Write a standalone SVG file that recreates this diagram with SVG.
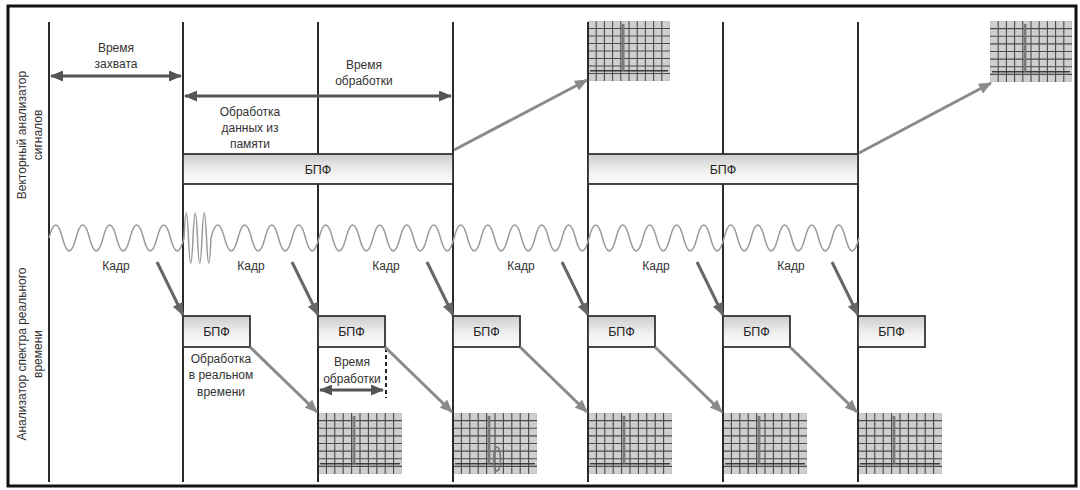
<svg xmlns="http://www.w3.org/2000/svg" xmlns:xlink="http://www.w3.org/1999/xlink" width="1080" height="490" viewBox="0 0 1080 490">
<style>
text{font-family:"Liberation Sans",Arial,sans-serif;font-size:12px;fill:#333;text-anchor:middle}
.bpf{font-size:12.5px;fill:#222}
.vline{stroke:#2a2a2a;stroke-width:2;fill:none}
.wave{stroke:#9a9a9a;stroke-width:1.5;fill:none}
.garr{stroke:#8a8a8a;stroke-width:3;fill:none;marker-end:url(#ahG)}
.darr{stroke:#666;stroke-width:3;fill:none;marker-end:url(#ahD)}
.dbl{stroke:#555;stroke-width:3;fill:none;marker-start:url(#ahS);marker-end:url(#ahS)}
.box{fill:url(#gb);stroke:#333;stroke-width:1.8}
</style>
<defs>
<linearGradient id="gb" x1="0" y1="0" x2="0" y2="1">
<stop offset="0" stop-color="#cdcdcd"/>
<stop offset="0.6" stop-color="#f2f2f2"/>
<stop offset="1" stop-color="#fbfbfb"/>
</linearGradient>
<marker id="ahG" markerUnits="userSpaceOnUse" markerWidth="13" markerHeight="11" refX="12" refY="5.5" orient="auto"><path d="M0,0 L13,5.5 L0,11 z" fill="#8a8a8a"/></marker>
<marker id="ahD" markerUnits="userSpaceOnUse" markerWidth="13" markerHeight="11" refX="12" refY="5.5" orient="auto"><path d="M0,0 L13,5.5 L0,11 z" fill="#666"/></marker>
<marker id="ahS" markerUnits="userSpaceOnUse" markerWidth="13" markerHeight="11" refX="12" refY="5.5" orient="auto-start-reverse"><path d="M0,0 L13,5.5 L0,11 z" fill="#555"/></marker>
<symbol id="spec" viewBox="0 0 84 62" preserveAspectRatio="none">
<rect x="0" y="0" width="84" height="62" fill="#cfcfcf" stroke="#bdbdbd" stroke-width="1"/>
<path d="M8.4 0V62M16.8 0V62M25.2 0V62M33.6 0V62M42 0V62M50.4 0V62M58.8 0V62M67.2 0V62M75.6 0V62M0 7.75H84M0 15.5H84M0 23.25H84M0 31H84M0 38.75H84M0 46.5H84M0 54.25H84" stroke="#4a4a4a" stroke-width="1.1" fill="none"/>
<path d="M2 51.5H82" stroke="#3a3a3a" stroke-width="1.6" fill="none"/>
<path d="M36 3V51.5" stroke="#7a7a7a" stroke-width="2.8" fill="none"/>
</symbol>
</defs>
<rect x="0" y="0" width="1080" height="490" fill="#fff"/>
<rect x="8" y="6" width="1068" height="480" fill="none" stroke="#111" stroke-width="3"/>

<g id="lanes">
<text transform="translate(26,135) rotate(-90)">Векторный анализатор</text>
<text transform="translate(42,135) rotate(-90)">сигналов</text>
<text transform="translate(26,354) rotate(-90)">Анализатор спектра реального</text>
<text transform="translate(42,354) rotate(-90)">времени</text>
</g>

<g id="spectra">
<use xlink:href="#spec" href="#spec" x="588" y="21" width="82" height="60"/>
<use xlink:href="#spec" href="#spec" x="990" y="21" width="82" height="61"/>
<use xlink:href="#spec" href="#spec" x="318" y="413" width="84" height="61"/>
<g id="spec453">
<use xlink:href="#spec" href="#spec" x="453" y="413" width="84" height="61"/>
<ellipse cx="497" cy="459" rx="3.5" ry="12" fill="none" stroke="#777" stroke-width="1.6"/>
</g>
<use xlink:href="#spec" href="#spec" x="588" y="413" width="84" height="61"/>
<use xlink:href="#spec" href="#spec" x="723" y="413" width="84" height="61"/>
<use xlink:href="#spec" href="#spec" x="858" y="413" width="84" height="61"/>
</g>

<g id="timelines">
<path class="vline" d="M49 22V482M183 22V482M318 22V482M453 22V482M588 22V482M723 22V482M858 22V482"/>
</g>

<g id="signal">
<path class="wave" d="M49 238q6.75 -26 13.5 0t13.5 0t13.5 0t13.5 0t13.5 0t13.5 0t13.5 0t13.5 0t13.5 0t13.5 0
q2.25 -50 4.5 0t4.5 0t4.5 0t4.5 0t4.5 0t4.5 0
q6.75 -26 13.5 0t13.5 0t13.5 0t13.5 0t13.5 0t13.5 0t13.5 0t13.5 0t13.5 0t13.5 0t13.5 0t13.5 0t13.5 0t13.5 0t13.5 0t13.5 0t13.5 0t13.5 0t13.5 0t13.5 0t13.5 0t13.5 0t13.5 0t13.5 0t13.5 0t13.5 0t13.5 0t13.5 0t13.5 0t13.5 0t13.5 0t13.5 0t13.5 0t13.5 0t13.5 0t13.5 0t13.5 0t13.5 0t13.5 0t13.5 0t13.5 0t13.5 0t13.5 0t13.5 0t13.5 0t13.5 0t13.5 0t13.5 0"/>
</g>

<g id="fft-top-1">
<rect class="box" x="183" y="154" width="270" height="30"/>
<text class="bpf" x="318" y="174">БПФ</text>
</g>
<g id="fft-top-2">
<rect class="box" x="588" y="154" width="270" height="30"/>
<text class="bpf" x="723" y="174">БПФ</text>
</g>

<g id="fft-rt">
<g id="fft-rt-1"><rect class="box" x="183" y="316" width="67" height="31"/><text class="bpf" x="216.5" y="336">БПФ</text></g>
<g id="fft-rt-2"><rect class="box" x="318" y="316" width="67" height="31"/><text class="bpf" x="351.5" y="336">БПФ</text></g>
<g id="fft-rt-3"><rect class="box" x="453" y="316" width="67" height="31"/><text class="bpf" x="486.5" y="336">БПФ</text></g>
<g id="fft-rt-4"><rect class="box" x="588" y="316" width="67" height="31"/><text class="bpf" x="621.5" y="336">БПФ</text></g>
<g id="fft-rt-5"><rect class="box" x="723" y="316" width="67" height="31"/><text class="bpf" x="756.5" y="336">БПФ</text></g>
<g id="fft-rt-6"><rect class="box" x="858" y="316" width="67" height="31"/><text class="bpf" x="891.5" y="336">БПФ</text></g>
</g>

<g id="labels">
<text x="116" y="52">Время</text>
<text x="116" y="68">захвата</text>
<text x="364" y="69">Время</text>
<text x="364" y="85">обработки</text>
<text x="250" y="116">Обработка</text>
<text x="250" y="132">данных из</text>
<text x="250" y="148">памяти</text>
<text x="116" y="270">Кадр</text>
<text x="251" y="270">Кадр</text>
<text x="386" y="270">Кадр</text>
<text x="521" y="270">Кадр</text>
<text x="656" y="270">Кадр</text>
<text x="791" y="270">Кадр</text>
<text x="221" y="363">Обработка</text>
<text x="221" y="379">в реальном</text>
<text x="221" y="396">времени</text>
<text x="352" y="366">Время</text>
<text x="352" y="383">обработки</text>
</g>

<g id="connectors">
<path class="dbl" d="M51 76H181"/>
<path class="dbl" d="M185 96H451"/>
<path class="dbl" d="M320 390H383"/>
<path d="M386 348V398" stroke="#222" stroke-width="2" stroke-dasharray="4,3" fill="none"/>
<path class="garr" d="M454 150L587 80"/>
<path class="garr" d="M859 153L991 83"/>
<path class="darr" d="M157 262L183 315"/>
<path class="darr" d="M292 262L318 315"/>
<path class="darr" d="M427 262L453 315"/>
<path class="darr" d="M562 262L588 315"/>
<path class="darr" d="M697 262L723 315"/>
<path class="darr" d="M832 262L858 315"/>
<path class="garr" d="M250 347L317 412"/>
<path class="garr" d="M385 347L452 412"/>
<path class="garr" d="M520 347L587 412"/>
<path class="garr" d="M655 347L722 412"/>
<path class="garr" d="M790 347L857 412"/>
</g>
</svg>
